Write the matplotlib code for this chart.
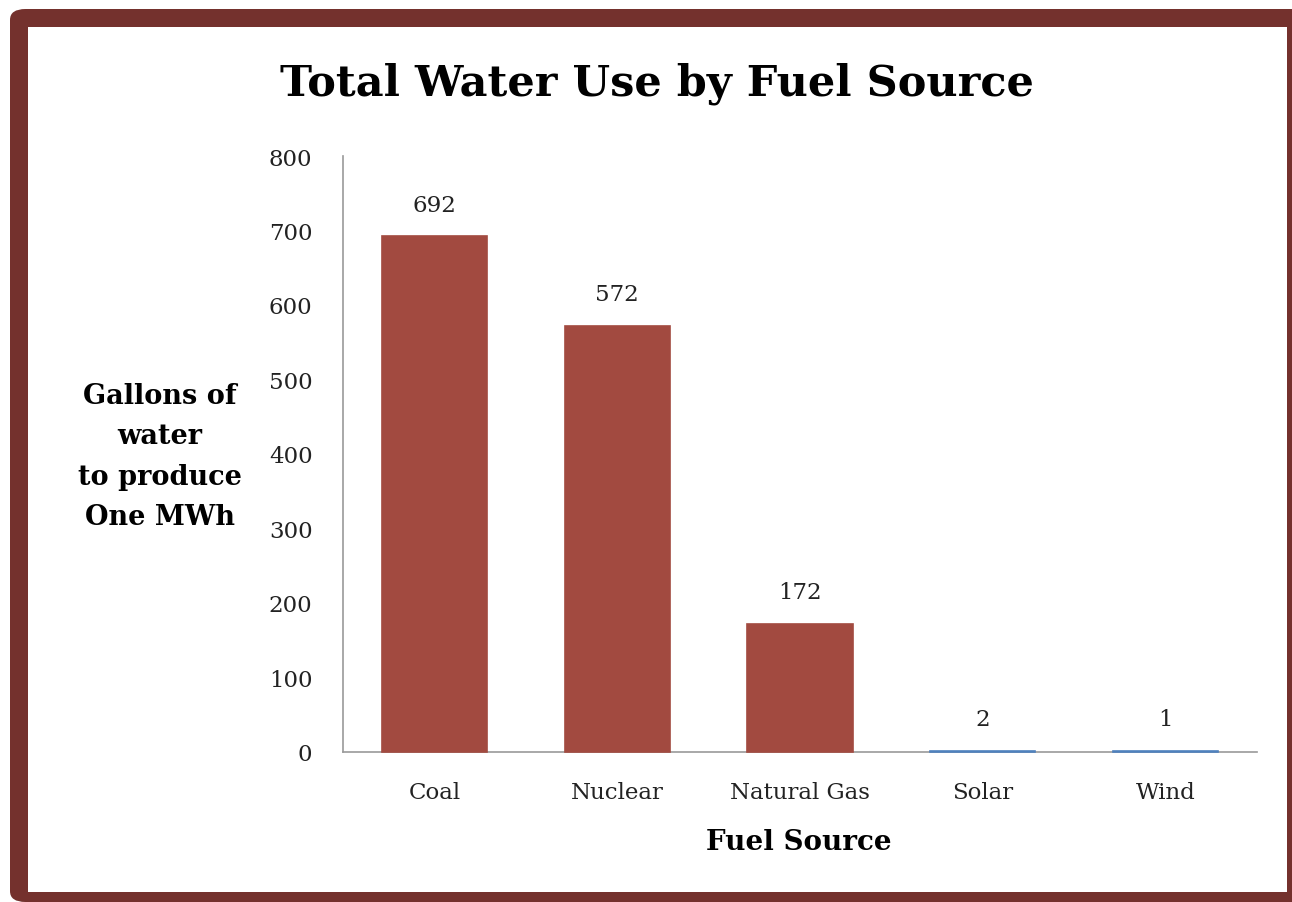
import matplotlib
matplotlib.use("Agg")
import matplotlib.pyplot as plt
from matplotlib.patches import FancyBboxPatch, Rectangle

categories = ["Coal", "Nuclear", "Natural Gas", "Solar", "Wind"]
values = [692, 572, 172, 2, 1]
bar_colors = ["#a24a40", "#a24a40", "#a24a40", "#4f81bd", "#4f81bd"]
yticks = [0, 100, 200, 300, 400, 500, 600, 700, 800]

W, H = 1292, 903
fig = plt.figure(figsize=(W / 100, H / 100), dpi=100)
fig.patch.set_facecolor("white")

# frame
frame = FancyBboxPatch((10 / W, 0), (W + 20 - 10) / W, (H - 10) / H,
                       boxstyle="round,pad=0,rounding_size=0.012",
                       transform=fig.transFigure, facecolor="#74312d",
                       edgecolor="none", zorder=-2)
fig.patches.append(frame)
inner = Rectangle((28 / W, (H - 893) / H), (1287 - 28) / W, (893 - 28) / H,
                  transform=fig.transFigure, facecolor="white",
                  edgecolor="none", zorder=-1)
fig.patches.append(inner)

serif = ["DejaVu Serif"]

ax_left, ax_right = 343, 1257
ax_top, ax_bottom = 157, 753
ax = fig.add_axes([ax_left / W, (H - ax_bottom) / H,
                   (ax_right - ax_left) / W, (ax_bottom - ax_top) / H])
ax.set_facecolor("none")
ax.set_zorder(5)

x = list(range(len(categories)))
bars = ax.bar(x, values, width=0.575, color=bar_colors,
              edgecolor=bar_colors, linewidth=1.2, zorder=3, clip_on=False)
ax.set_xlim(-0.5, len(categories) - 0.5)
ax.set_ylim(0, 800)
ax.set_yticks(yticks)
ax.set_yticklabels([str(t) for t in yticks], fontfamily=serif, fontsize=16.5,
                   color="#222222")
ax.set_xticks(x)
ax.set_xticklabels(categories, fontfamily=serif, fontsize=16.5, color="#222222")
ax.tick_params(axis="y", length=0, pad=22)
ax.tick_params(axis="x", length=0, pad=21)

for s in ["top", "right"]:
    ax.spines[s].set_visible(False)
for s in ["left", "bottom"]:
    ax.spines[s].set_color("#999999")
    ax.spines[s].set_linewidth(1.2)

for xi, v in zip(x, values):
    ax.annotate(str(v), (xi, v), xytext=(0, 15), textcoords="offset points",
                ha="center", va="bottom", fontfamily=serif, fontsize=16.5,
                color="#222222")

fig.text(657 / W, 1 - 84 / H, "Total Water Use by Fuel Source",
         ha="center", va="center", fontfamily=serif, fontweight="bold",
         fontsize=31, color="black")

fig.text(160 / W, 1 - 457 / H, "Gallons of\nwater\nto produce\nOne MWh",
         ha="center", va="center", fontfamily=serif, fontweight="bold",
         fontsize=19.5, linespacing=1.65, color="black")

fig.text(799 / W, 1 - 843 / H, "Fuel Source", ha="center", va="center",
         fontfamily=serif, fontweight="bold", fontsize=20, color="black")

fig.savefig("out.png", dpi=100)
